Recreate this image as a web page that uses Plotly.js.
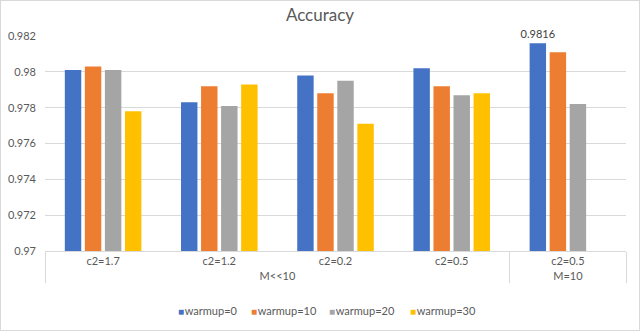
<!DOCTYPE html>
<html>
<head>
<meta charset="utf-8">
<script src="https://cdn.plot.ly/plotly-3.0.1.min.js"></script>
<style>
  body { margin: 0; background: #fff; }
  #myDiv { width: 638px; height: 329px; border: 1px solid #d9d9d9; }
</style>
</head>
<body>
<div id="myDiv"></div>
<script>
// Accuracy by c2 setting and warmup, grouped under M<<10 / M=10
const groupLabels = ['M<<10', 'M<<10', 'M<<10', 'M<<10', 'M=10'];
const c2Labels = ['c2=1.7', 'c2=1.2', 'c2=0.2', 'c2=0.5', 'c2=0.5'];

const warmup0 = [0.9801, 0.9783, 0.9798, 0.9802, 0.9816];
const warmup10 = [0.9803, 0.9792, 0.9788, 0.9792, 0.9811];
const warmup20 = [0.9801, 0.9781, 0.9795, 0.9787, 0.9782];
const warmup30 = [0.9778, 0.9793, 0.9771, 0.9788, null];

const seriesNames = ['warmup=0', 'warmup=10', 'warmup=20', 'warmup=30'];
const seriesValues = [warmup0, warmup10, warmup20, warmup30];
const colors = ['#4472C4', '#ED7D31', '#A5A5A5', '#FFC000'];

// only the best value gets a data label
const labelText = warmup0.map((v, i) => (i === 4 ? String(v) : ''));

const traces = seriesNames.map((name, i) => ({
  type: 'bar',
  name: name,
  x: [groupLabels, c2Labels],
  y: seriesValues[i],
  marker: { color: colors[i] },
  text: i === 0 ? labelText : undefined,
  textposition: i === 0 ? 'outside' : undefined,
  constraintext: 'none',
  textfont: { color: '#404040', size: 11 },
  cliponaxis: false,
  showlegend: false,
  hoverinfo: 'x+y'
}));

// compact Excel-style legend, built from the series names/colours
const legendX = [0.226, 0.351, 0.486, 0.624];
const legendNotes = seriesNames.map((name, i) => ({
  xref: 'paper', yref: 'paper',
  x: legendX[i], y: -0.276,
  xanchor: 'left', yanchor: 'middle',
  showarrow: false,
  text: '<span style="color:' + colors[i] + ';font-size:10px">■</span>&#8202;' + name,
  font: { size: 11, color: '#595959' }
}));

const layout = {
  title: {
    text: 'Accuracy',
    x: 0.5, xref: 'container',
    y: 0.975, yref: 'container', yanchor: 'top',
    font: { size: 17, color: '#595959' }
  },
  font: { family: 'Lato, "Open Sans", sans-serif', size: 11, color: '#595959' },
  paper_bgcolor: '#fff',
  plot_bgcolor: '#fff',
  barmode: 'group',
  bargap: 0.31,
  bargroupgap: 0.18,
  margin: { l: 44, r: 13, t: 35, b: 79 },
  xaxis: {
    type: 'multicategory',
    showline: true,
    linecolor: '#d9d9d9',
    showdividers: true,
    dividercolor: '#d9d9d9',
    dividerwidth: 1,
    ticks: '',
    tickfont: { size: 11, color: '#595959' }
  },
  yaxis: {
    range: [0.97, 0.982],
    dtick: 0.002,
    gridcolor: '#d9d9d9',
    zeroline: false,
    showline: false,
    ticks: '',
    ticklabelstandoff: 8,
    tickfont: { size: 11, color: '#595959' }
  },
  annotations: legendNotes
};

Plotly.newPlot('myDiv', traces, layout, { displayModeBar: false });
</script>
</body>
</html>
